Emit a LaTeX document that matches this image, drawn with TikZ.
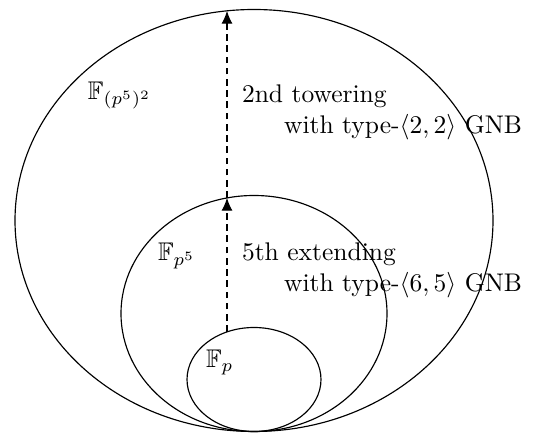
\documentclass[tikz,border=0pt]{standalone}
\usepackage{amssymb}
\usetikzlibrary{arrows.meta}
\begin{document}
\begin{tikzpicture}[x=0.392pt,y=0.392pt,
  field/.style={draw=black,line width=0.45pt},
  conn/.style={draw=black,line width=0.45pt,dash pattern=on 2.6pt off 1.8pt,-{Latex[length=5pt,width=4.3pt]}},
  lbl/.style={inner sep=0pt,outer sep=0pt},
  desc/.style={inner sep=0pt,outer sep=0pt,align=left,anchor=north west}]
\useasboundingbox (0,0) rectangle (542,433);
% fields
\draw[field] (254,212.5) ellipse [x radius=239, y radius=211];
\draw[field] (254,119.5) ellipse [x radius=133, y radius=118];
\draw[field] (254,53.5) ellipse [x radius=67, y radius=52];
% connector end points on the ellipses
\coordinate (a0) at (227,101.1);
\coordinate (a1) at (227,235.1);
\coordinate (a2) at (227,422.1);
\draw[conn] (a0) -- (a1);
\draw[conn] (a1) -- (a2);
% field labels
\node[lbl,anchor=base west] (Fp) at (206,65) {$\mathbb{F}_p$};
\node[lbl,anchor=base west] (Fp5) at (158,172) {$\mathbb{F}_{p^5}$};
\node[lbl,anchor=base west] (Fp52) at (88,333) {$\mathbb{F}_{(p^5)^2}$};
% descriptions
\node[desc] (d2) at (242,347.7) {2nd towering\\\hspace*{16.5pt}with type-$\langle 2,2\rangle$ GNB};
\node[desc] (d1) at (242,189.7) {5th extending\\\hspace*{16.5pt}with type-$\langle 6,5\rangle$ GNB};
\end{tikzpicture}
\end{document}
